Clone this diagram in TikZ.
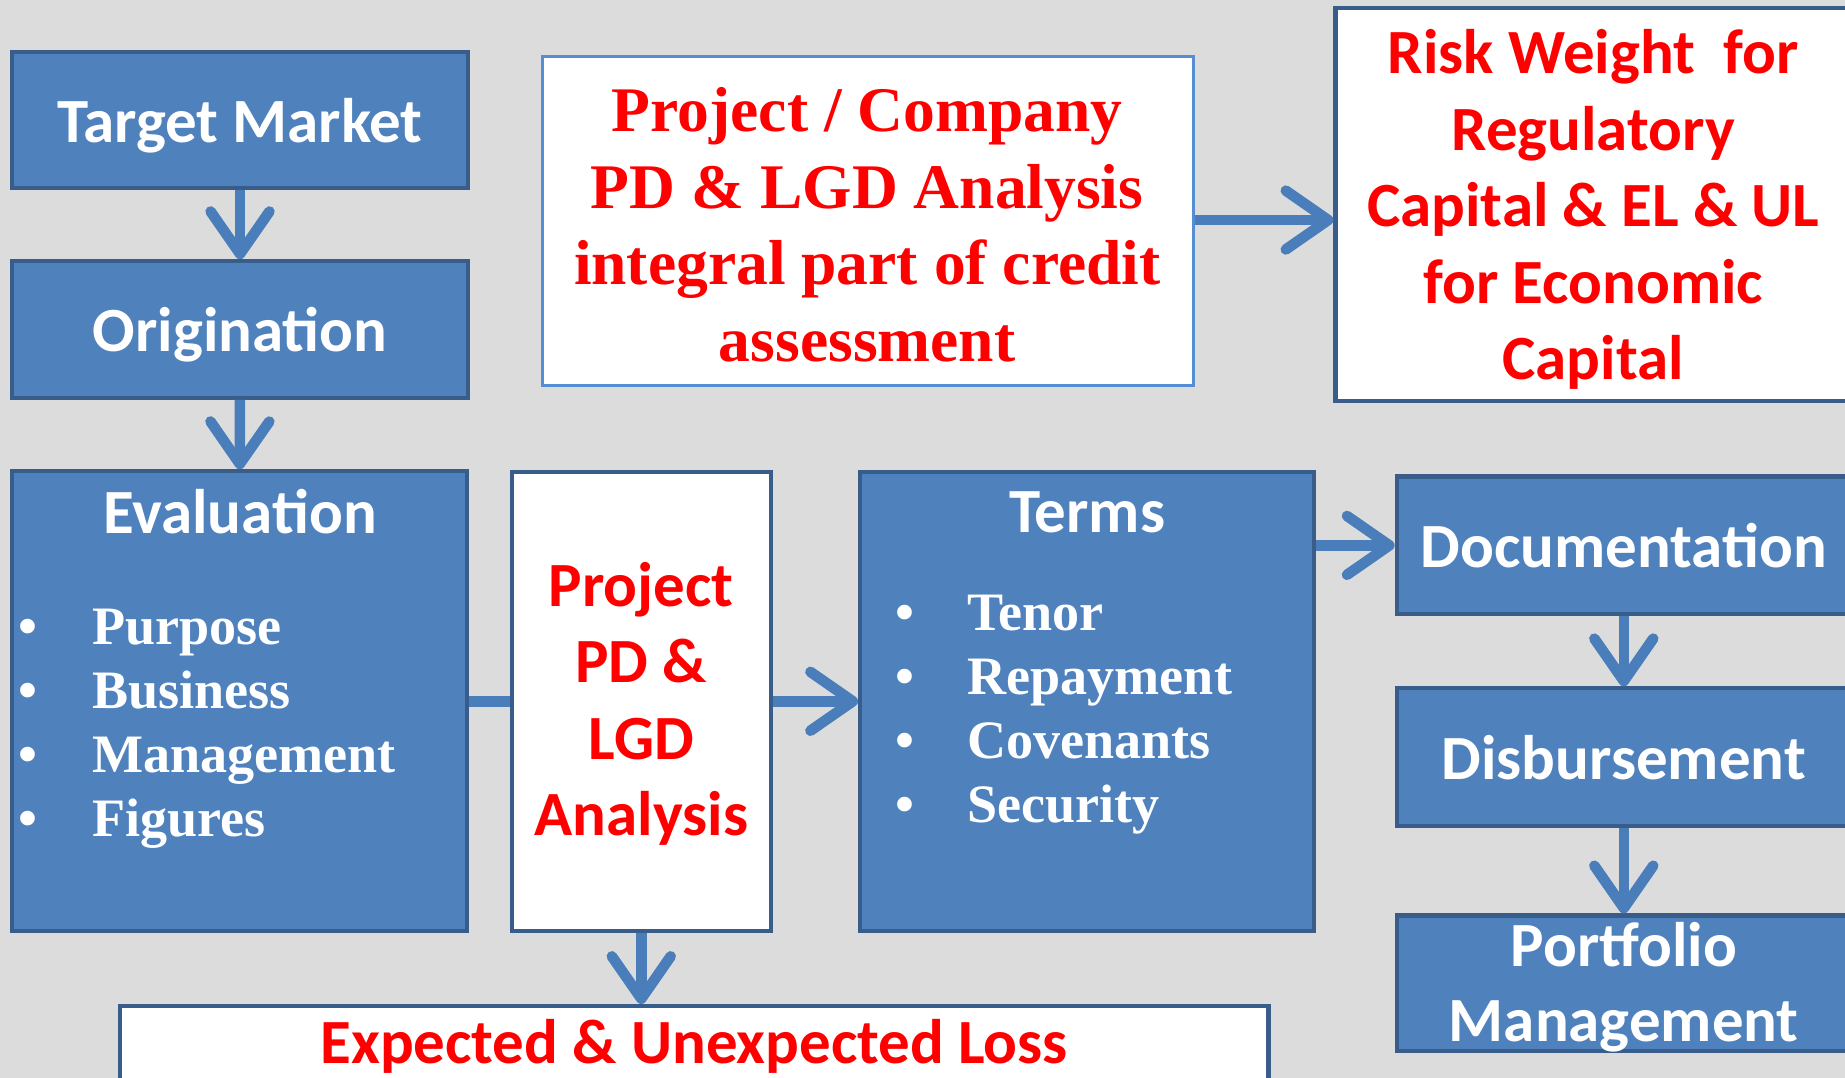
\documentclass[tikz,border=0pt]{standalone}
\usepackage{fontspec}
\setmainfont{Liberation Serif}
\newfontfamily\calfont{Carlito}
\usetikzlibrary{arrows.meta}
\definecolor{boxblue}{HTML}{4F81BD}
\definecolor{edgeblue}{HTML}{385D8A}
\definecolor{lightedge}{HTML}{558ED5}
\definecolor{arrowblue}{HTML}{4A7EBB}
\definecolor{txtred}{HTML}{FF0000}
\definecolor{bggray}{HTML}{DCDCDC}
\newcommand\calbig{\calfont\bfseries\fontsize{53.5}{65}\selectfont}
\newcommand\serbig{\bfseries\fontsize{54}{65}\selectfont}
\newcommand\serlist{\bfseries\fontsize{46}{54.5}\selectfont}
\begin{document}
\begin{tikzpicture}[x=1pt,y=-1pt,
  bluebox/.style={draw=edgeblue,line width=3.5pt,fill=boxblue,inner sep=0pt,
    text=white,font=\calbig,align=center,text depth=0pt},
  whitebox/.style={draw=edgeblue,line width=3.5pt,fill=white,inner sep=0pt},
  redcal/.style={text=txtred,font=\calbig,align=center,inner sep=0pt},
  redser/.style={text=txtred,font=\serbig,align=center,inner sep=0pt},
  whitetitle/.style={text=white,font=\calbig,inner sep=0pt},
  bulletmark/.style={text=white,font=\serlist,inner sep=0pt,anchor=base},
  bulletword/.style={text=white,font=\serlist,inner sep=0pt,anchor=base west},
  conn/.style={draw=arrowblue,line width=9pt,
    -{Straight Barb[length=36pt,width=50pt,round]}},
  plainconn/.style={draw=arrowblue,line width=9pt}]
% page and backdrop
\useasboundingbox (0,0) rectangle (1568,916);
\fill[bggray] (0,0) rectangle (1568,916);

% left column
\node[bluebox,minimum width=388,minimum height=116] (tm) at (204,102) {Target Market};
\node[bluebox,minimum width=388,minimum height=116] (orig) at (204,280) {Origination};
\node[bluebox,minimum width=387,minimum height=391] (eval) at (203.5,596) {};
\node[whitetitle] (evalt) at (204,435) {Evaluation};
\foreach \w [count=\i] in {Purpose,Business,Management,Figures}{
  \node[bulletmark] (evb\i) at (24,{493+54.5*\i}) {•};
  \node[bulletword] (evw\i) at (78,{493+54.5*\i}) {\w};
}

% project PD & LGD box
\node[whitebox,minimum width=220,minimum height=390] (pdl) at (545,596) {};
\node[redcal] (pdlt) at (545,598) {Project\\PD \&\\LGD\\Analysis};

% terms box
\node[bluebox,minimum width=386,minimum height=390] (terms) at (924,596) {};
\node[whitetitle] (termst) at (924,435) {Terms};
\foreach \w [count=\i] in {Tenor,Repayment,Covenants,Security}{
  \node[bulletmark] (teb\i) at (769,{481+54.5*\i}) {•};
  \node[bulletword] (tew\i) at (822,{481+54.5*\i}) {\w};
}

% right column
\node[bluebox,minimum width=386,minimum height=117] (doc) at (1380,463.5) {Documentation};
\node[bluebox,minimum width=386,minimum height=117] (disb) at (1380,643.5) {Disbursement};
\node[bluebox,minimum width=386,minimum height=115] (port) at (1380,835.5) {};
\node[text=white,font=\calfont\bfseries\fontsize{53.5}{63}\selectfont,align=center,inner sep=0pt]
  (portt) at (1380,839) {Portfolio\\Management};

% top boxes
\node[whitebox,draw=lightedge,line width=2.5pt,minimum width=553,minimum height=280] (pc) at (737.5,188) {};
\node[redser] (pct) at (737,191) {Project / Company\\PD \& LGD Analysis\\integral part of credit\\assessment};
\node[whitebox,minimum width=438,minimum height=334] (rw) at (1354,174) {};
\node[redcal] (rwt) at (1354,178) {Risk Weight\ \ for\\Regulatory\\Capital \& EL \& UL\\for Economic\\Capital};

% bottom box
\node[whitebox,minimum width=976,minimum height=80] (el) at (590,895) {};
\node[redcal] (elt) at (590,889) {Expected \& Unexpected Loss};

% connectors
\draw[conn] (tm) -- (orig);
\draw[conn] (orig) -- (eval);
\draw[plainconn] (eval) -- (pdl);
\draw[conn] (pdl) -- (terms);
\draw[conn] (terms.east |- doc) -- (doc.west);
\draw[conn] (doc) -- (disb);
\draw[conn] (disb) -- (port);
\draw[conn] (pc.east |- 0,187) -- (rw.west |- 0,187);
\draw[conn] (pdl.south) -- (pdl.south |- el.north);
\end{tikzpicture}
\end{document}
